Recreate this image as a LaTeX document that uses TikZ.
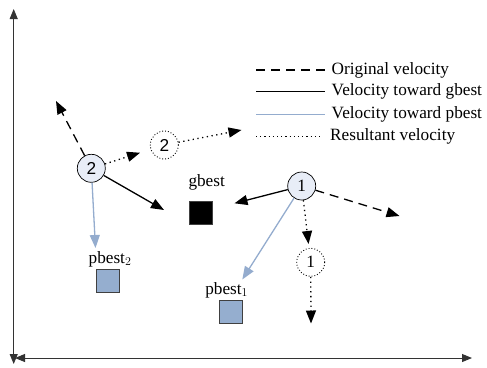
\documentclass[tikz,border=0pt]{standalone}
\usepackage{fontspec}
\setmainfont{Liberation Serif}
\newfontfamily\numsans{Liberation Sans}
\usetikzlibrary{arrows.meta}
\definecolor{pbl}{HTML}{94ACCE}
\definecolor{sqbl}{HTML}{95AECF}
\definecolor{cfill}{HTML}{E8EDF7}
\begin{document}
\begin{tikzpicture}[x=1bp,y=-1bp,
  font=\fontsize{17.3}{20}\selectfont,
  particle/.style={circle, draw, fill=cfill, minimum size=28bp, inner sep=0pt, line width=0.7bp},
  ghost/.style={circle, draw, dotted, line width=0.9bp, minimum size=28bp, inner sep=0pt},
  best/.style={draw=black!75, minimum size=23bp, inner sep=0pt, line width=0.8bp},
  lbl/.style={inner sep=0pt},
  arr/.style={-{Triangle[length=13bp,width=10bp]}, line width=1.3bp},
  orig/.style={arr, dash pattern=on 9bp off 6bp},
  gvel/.style={arr},
  pvel/.style={arr, pbl},
  rvel/.style={arr, dash pattern=on 1.3bp off 3.5bp},
  axis/.style={{Triangle[length=10bp,width=8bp]}-{Triangle[length=10bp,width=8bp]}, line width=0.9bp, black!80},
  legtext/.style={anchor=west, inner sep=0pt}
]
\useasboundingbox (0,0) rectangle (487,367);

% axes
\coordinate (ya) at (13.7,9);
\coordinate (yb) at (13.7,364);
\coordinate (xa) at (15,358);
\coordinate (xb) at (472,358);
\draw[axis] (ya) -- (yb);
\draw[axis] (xa) -- (xb);

% legend
\coordinate (l1a) at (256,70);  \coordinate (l1b) at (325,70);
\coordinate (l2a) at (256,91.7); \coordinate (l2b) at (325,91.7);
\coordinate (l3a) at (256,114.7); \coordinate (l3b) at (325,114.7);
\coordinate (l4a) at (256,136.7); \coordinate (l4b) at (322,136.7);
\draw[line width=1.3bp, dash pattern=on 9bp off 6bp] (l1a) -- (l1b);
\draw[line width=1.3bp] (l2a) -- (l2b);
\draw[line width=1.3bp, pbl] (l3a) -- (l3b);
\draw[line width=1bp, dash pattern=on 1.2bp off 3bp] (l4a) -- (l4b);
\node[legtext] (t1) at (331.5,70) {Original velocity};
\node[legtext] (t2) at (331.5,91.7) {Velocity toward gbest};
\node[legtext] (t3) at (331.5,114.7) {Velocity toward pbest};
\node[legtext] (t4) at (330,136.7) {Resultant velocity};

% bests
\node[best, fill=black] (gb) at (201.3,213.3) {};
\node[lbl] (gbl) at (206.7,182.5) {gbest};
\node[best, fill=sqbl] (pb2) at (107.7,281) {};
\node[lbl] (pb2l) at (110,259) {pbest$_2$};
\node[best, fill=sqbl] (pb1) at (231,312.3) {};
\node[lbl] (pb1l) at (226.7,290) {pbest$_1$};

% particles
\node[particle] (p2) at (91.3,168.3) {\numsans 2};
\node[ghost] (g2) at (164.3,145) {\numsans 2};
\node[particle] (p1) at (301.7,186) {1};
\node[ghost] (g1) at (310.7,262.3) {1};

% arrows of particle 2
\coordinate (p2o) at (56,101);
\coordinate (p2g) at (164,210);
\coordinate (p2p) at (95.5,248);
\coordinate (g2e) at (241.5,130);
\draw[orig] (p2) -- (p2o);
\draw[gvel] (p2) -- (p2g);
\draw[pvel] (p2) -- (p2p);
\draw[rvel, shorten >=11bp] (p2) -- (g2);
\draw[rvel] (g2) -- (g2e);

% arrows of particle 1
\coordinate (p1o) at (399.5,216);
\coordinate (p1g) at (234.5,203.3);
\coordinate (p1p) at (242.3,279.5);
\coordinate (g1e) at (311,323.5);
\draw[orig] (p1) -- (p1o);
\draw[gvel] (p1) -- (p1g);
\draw[pvel] (p1) -- (p1p);
\draw[rvel, shorten >=4bp] (p1) -- (g1);
\draw[rvel] (g1) -- (g1e);
\end{tikzpicture}
\end{document}
